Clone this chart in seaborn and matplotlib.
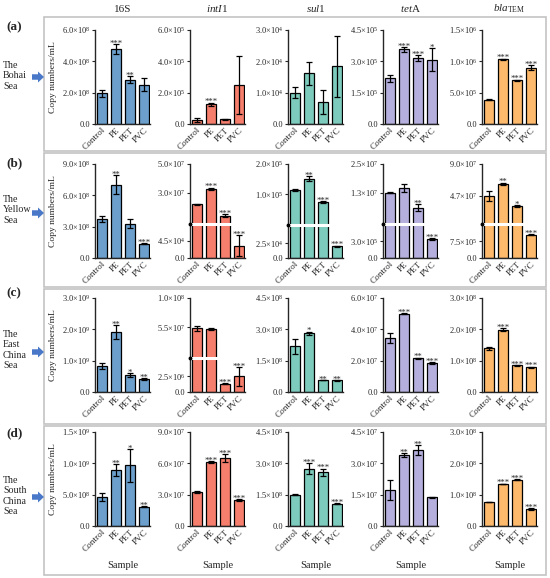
import numpy as np
import pandas as pd
import seaborn as sns
import matplotlib.pyplot as plt
from matplotlib import patches

groups = ["Control", "PE", "PET", "PVC"]
genes = ["16S", "intI1", "sul1", "tetA", "blaTEM"]
gene_titles = ["16S", r"$\mathit{intI}$1", r"$\mathit{sul}$1", r"$\mathit{tet}$A",
               r"$\mathit{bla}_{\mathrm{TEM}}$"]
gene_colors = ["#6c9fcc", "#f67e6c", "#7dcbbd", "#b4afdc", "#fdb96c"]
row_tags = ["(a)", "(b)", "(c)", "(d)"]
row_seas = ["The\nBohai\nSea", "The\nYellow\nSea", "The\nEast\nChina\nSea", "The\nSouth\nChina\nSea"]

# (a) The Bohai Sea
bohai_mean = {"16S": [1.95e8, 4.78e8, 2.82e8, 2.52e8],
              "intI1": [2.5e4, 1.25e5, 3.0e4, 2.5e5],
              "sul1": [1.0e4, 1.62e4, 0.7e4, 1.84e4],
              "tetA": [2.18e5, 3.58e5, 3.15e5, 3.07e5],
              "blaTEM": [3.9e5, 1.03e6, 6.95e5, 9.0e5]}
bohai_sd = {"16S": [0.2e8, 0.3e8, 0.22e8, 0.42e8],
            "intI1": [1.2e4, 1.2e4, 3e3, 1.85e5],
            "sul1": [0.18e4, 0.37e4, 0.38e4, 0.97e4],
            "tetA": [0.15e5, 0.11e5, 0.13e5, 0.55e5],
            "blaTEM": [0.1e5, 0.15e5, 0.15e5, 0.4e5]}
bohai_sig = {"16S": ["", "***", "**", ""],
             "intI1": ["", "***", "", ""],
             "sul1": ["", "", "", ""],
             "tetA": ["", "***", "***", "*"],
             "blaTEM": ["", "***", "***", "***"]}
bohai_ticks = {"16S": [0, 2e8, 4e8, 6e8],
               "intI1": [0, 2e5, 4e5, 6e5],
               "sul1": [0, 1e4, 2e4, 3e4],
               "tetA": [0, 1.5e5, 3e5, 4.5e5],
               "blaTEM": [0, 5e5, 1e6, 1.5e6]}

# (b) The Yellow Sea
yellow_mean = {"16S": [3.72e8, 7.0e8, 3.3e8, 1.37e8],
               "intI1": [1.9e7, 3.28e7, 8.0e6, 3.2e4],
               "sul1": [1.145e5, 1.52e5, 8.9e4, 2.0e4],
               "tetA": [1.3e7, 1.51e7, 7.1e6, 3.47e5],
               "blaTEM": [4.6e7, 6.3e7, 3.07e7, 1.05e6]}
yellow_sd = {"16S": [0.3e8, 0.9e8, 0.45e8, 0.04e8],
             "intI1": [0.3e6, 0.7e6, 1.6e6, 2.7e4],
             "sul1": [2e3, 9e3, 1e3, 1e3],
             "tetA": [0.1e6, 1.7e6, 1.4e6, 1.5e4],
             "blaTEM": [7e6, 1.8e6, 1.6e6, 2e4]}
yellow_sig = {"16S": ["", "**", "", "***"],
              "intI1": ["", "***", "***", "***"],
              "sul1": ["", "**", "***", "***"],
              "tetA": ["", "", "**", "***"],
              "blaTEM": ["", "**", "*", "***"]}
yellow_ticks = {"16S": [0, 3e8, 6e8, 9e8],
                "intI1": [0, 4.5e4, 3e7, 5e7],
                "sul1": [0, 2.5e4, 1e5, 2e5],
                "tetA": [0, 3e5, 1.3e7, 2.5e7],
                "blaTEM": [0, 7.5e5, 4.7e7, 9e7]}
# broken y axis: (top of lower part, break position, position of 3rd tick)
yellow_breaks = {"intI1": (8.8e4, 0.36, 0.696),
                 "sul1": (5.6e4, 0.349, 0.676),
                 "tetA": (6.1e5, 0.36, 0.696),
                 "blaTEM": (1.53e6, 0.36, 0.664)}

# (c) The East China Sea
east_mean = {"16S": [0.84e9, 1.92e9, 0.54e9, 0.42e9],
             "intI1": [5.29e7, 5.24e7, 1.36e6, 2.5e6],
             "sul1": [2.18e8, 2.82e8, 0.57e8, 0.56e8],
             "tetA": [3.45e7, 5.0e7, 2.15e7, 1.86e7],
             "blaTEM": [1.39e8, 1.99e8, 0.85e8, 0.79e8]}
east_sd = {"16S": [0.1e9, 0.22e9, 0.075e9, 0.03e9],
           "intI1": [4.4e6, 1.6e6, 0.05e6, 1.5e6],
           "sul1": [0.35e8, 0.07e8, 0.01e8, 0.01e8],
           "tetA": [0.3e7, 0.04e7, 0.04e7, 0.05e7],
           "blaTEM": [0.05e8, 0.04e8, 0.02e8, 0.02e8]}
east_sig = {"16S": ["", "**", "*", "**"],
            "intI1": ["", "", "***", "***"],
            "sul1": ["", "*", "**", "**"],
            "tetA": ["", "***", "**", "***"],
            "blaTEM": ["", "***", "***", "***"]}
east_ticks = {"16S": [0, 1e9, 2e9, 3e9],
              "intI1": [0, 2.5e6, 5.5e7, 1e8],
              "sul1": [0, 1.5e8, 3e8, 4.5e8],
              "tetA": [0, 2e7, 4e7, 6e7],
              "blaTEM": [0, 1e8, 2e8, 3e8]}
east_breaks = {"intI1": (5.5e6, 0.363, 0.69)}

# (d) The South China Sea
south_mean = {"16S": [4.6e8, 8.9e8, 9.7e8, 3.1e8],
              "intI1": [3.25e7, 6.1e7, 6.5e7, 2.5e7],
              "sul1": [1.5e8, 2.75e8, 2.57e8, 1.07e8],
              "tetA": [1.72e7, 3.38e7, 3.62e7, 1.37e7],
              "blaTEM": [0.77e8, 1.34e8, 1.47e8, 0.55e8]}
south_sd = {"16S": [0.6e8, 0.95e8, 2.6e8, 0.1e8],
            "intI1": [0.1e7, 0.1e7, 0.4e7, 0.07e7],
            "sul1": [0.02e8, 0.25e8, 0.18e8, 0.03e8],
            "tetA": [0.49e7, 0.1e7, 0.24e7, 0.03e7],
            "blaTEM": [0.01e8, 0.015e8, 0.015e8, 0.03e8]}
south_sig = {"16S": ["", "**", "*", "**"],
             "intI1": ["", "***", "***", "***"],
             "sul1": ["", "***", "***", "***"],
             "tetA": ["", "**", "**", ""],
             "blaTEM": ["", "***", "***", "***"]}
south_ticks = {"16S": [0, 5e8, 1e9, 1.5e9],
               "intI1": [0, 3e7, 6e7, 9e7],
               "sul1": [0, 1.5e8, 3e8, 4.5e8],
               "tetA": [0, 1.5e7, 3e7, 4.5e7],
               "blaTEM": [0, 1e8, 2e8, 3e8]}

rows = [(bohai_mean, bohai_sd, bohai_sig, bohai_ticks, {}),
        (yellow_mean, yellow_sd, yellow_sig, yellow_ticks, yellow_breaks),
        (east_mean, east_sd, east_sig, east_ticks, east_breaks),
        (south_mean, south_sd, south_sig, south_ticks, {})]


def sci(v):
    if v == 0:
        return "0.0"
    e = int(np.floor(np.log10(v) + 1e-9))
    m = v / 10 ** e
    return f"{m:.1f}×10$^{{{e}}}$"


def broken_scale(lo_top, bf, t2, f2, top):
    xs = np.array([0.0, lo_top, t2, top])
    fs = np.array([0.0, bf, f2, 1.0])
    fwd = lambda v: np.interp(np.asarray(v, dtype=float), xs, fs)
    inv = lambda f: np.interp(np.asarray(f, dtype=float), fs, xs)
    return fwd, inv


sns.set_style("ticks")
plt.rcParams["font.family"] = ["Liberation Serif", "DejaVu Serif"]
plt.rcParams["mathtext.fontset"] = "custom"
plt.rcParams["mathtext.rm"] = "Liberation Serif"
plt.rcParams["mathtext.it"] = "Liberation Serif:italic"
plt.rcParams["mathtext.bf"] = "Liberation Serif:bold"
plt.rcParams["mathtext.default"] = "regular"

W, H = 550, 578
fig = plt.figure(figsize=(5.5, 5.78), dpi=100)

# overlay in pixel coordinates for frames, labels and arrows
ov = fig.add_axes([0, 0, 1, 1])
ov.set_xlim(0, W)
ov.set_ylim(H, 0)
ov.axis("off")

box_y = [(17, 151), (153, 287), (289, 424), (426, 575)]
tag_y = [27, 163, 293, 433]
sea_y = [76, 210, 350, 496]
arrow_y = [77, 213, 352, 497]
for r in range(4):
    y0, y1 = box_y[r]
    ov.add_patch(patches.Rectangle((44, y0), 502, y1 - y0, fill=False, ec="#c4c4c4", lw=1.2))
    ov.text(6, tag_y[r], row_tags[r], fontsize=9.5, fontweight="bold", va="center", ha="left")
    ov.text(3, sea_y[r], row_seas[r], fontsize=7.2, va="center", ha="left", linespacing=1.15)
    ov.add_patch(patches.FancyArrow(32, arrow_y[r], 6, 0, width=5.5, head_width=11,
                                    head_length=6, length_includes_head=False,
                                    color="#4a78c8", lw=0))

col_left = [95, 190, 288, 383, 482]
row_top = [30, 164, 298, 432]
ax_w, ax_h = 55, 94

for c, g in enumerate(genes):
    ov.text(col_left[c] + ax_w / 2, 9, gene_titles[c], fontsize=8, ha="center", va="center")

for r, (mean, sd, sig, ticks, breaks) in enumerate(rows):
    ov.text(53, row_top[r] + ax_h / 2, "Copy numbers/mL", rotation=90, fontsize=6.8,
            ha="center", va="center")
    for c, g in enumerate(genes):
        ax = fig.add_axes([col_left[c] / W, 1 - (row_top[r] + ax_h) / H, ax_w / W, ax_h / H])
        ax.set_facecolor("none")
        df = pd.DataFrame({"group": groups, "value": mean[g]})
        top = ticks[g][-1]
        if g in breaks:
            lo_top, bf, f2 = breaks[g]
            ax.set_yscale("function", functions=broken_scale(lo_top, bf, ticks[g][2], f2, top))
        sns.barplot(data=df, x="group", y="value", color=gene_colors[c], saturation=1,
                    width=0.72, edgecolor="black", linewidth=0.9, errorbar=None, ax=ax)
        ax.errorbar(np.arange(4), mean[g], yerr=sd[g], fmt="none", ecolor="black",
                    elinewidth=0.9, capsize=2.2, capthick=0.9, zorder=4)
        for i in range(4):
            if sig[g][i]:
                ax.annotate(sig[g][i], (i, mean[g][i] + sd[g][i]), xytext=(0, -1.2),
                            textcoords="offset points", ha="center", va="baseline",
                            fontsize=6.3)
        ax.set_ylim(0, top)
        ax.set_xlim(-0.48, 3.42)
        ax.set_yticks(ticks[g])
        ax.set_yticklabels([sci(t) for t in ticks[g]])
        if g in breaks:
            lo_top = breaks[g][0]
            ax.axhline(lo_top, color="white", lw=2.2, zorder=5)
            ax.plot([0], [lo_top], transform=ax.get_yaxis_transform(), marker="o", ms=1.8,
                    color="black", clip_on=False, zorder=6)
        ax.set_xlabel("")
        ax.set_ylabel("")
        sns.despine(ax=ax)
        for s in ["left", "bottom"]:
            ax.spines[s].set_linewidth(1.0)
        ax.tick_params(axis="y", length=2.5, width=0.8, labelsize=6, pad=1)
        ax.tick_params(axis="x", length=0, labelsize=6.6, pad=1.5)
        plt.setp(ax.get_xticklabels(), rotation=45, ha="right", rotation_mode="anchor")
        if r == 3:
            ov.text(col_left[c] + ax_w / 2, 566, "Sample", fontsize=7.5, ha="center", va="center")

fig.savefig("out.png", dpi=100)
